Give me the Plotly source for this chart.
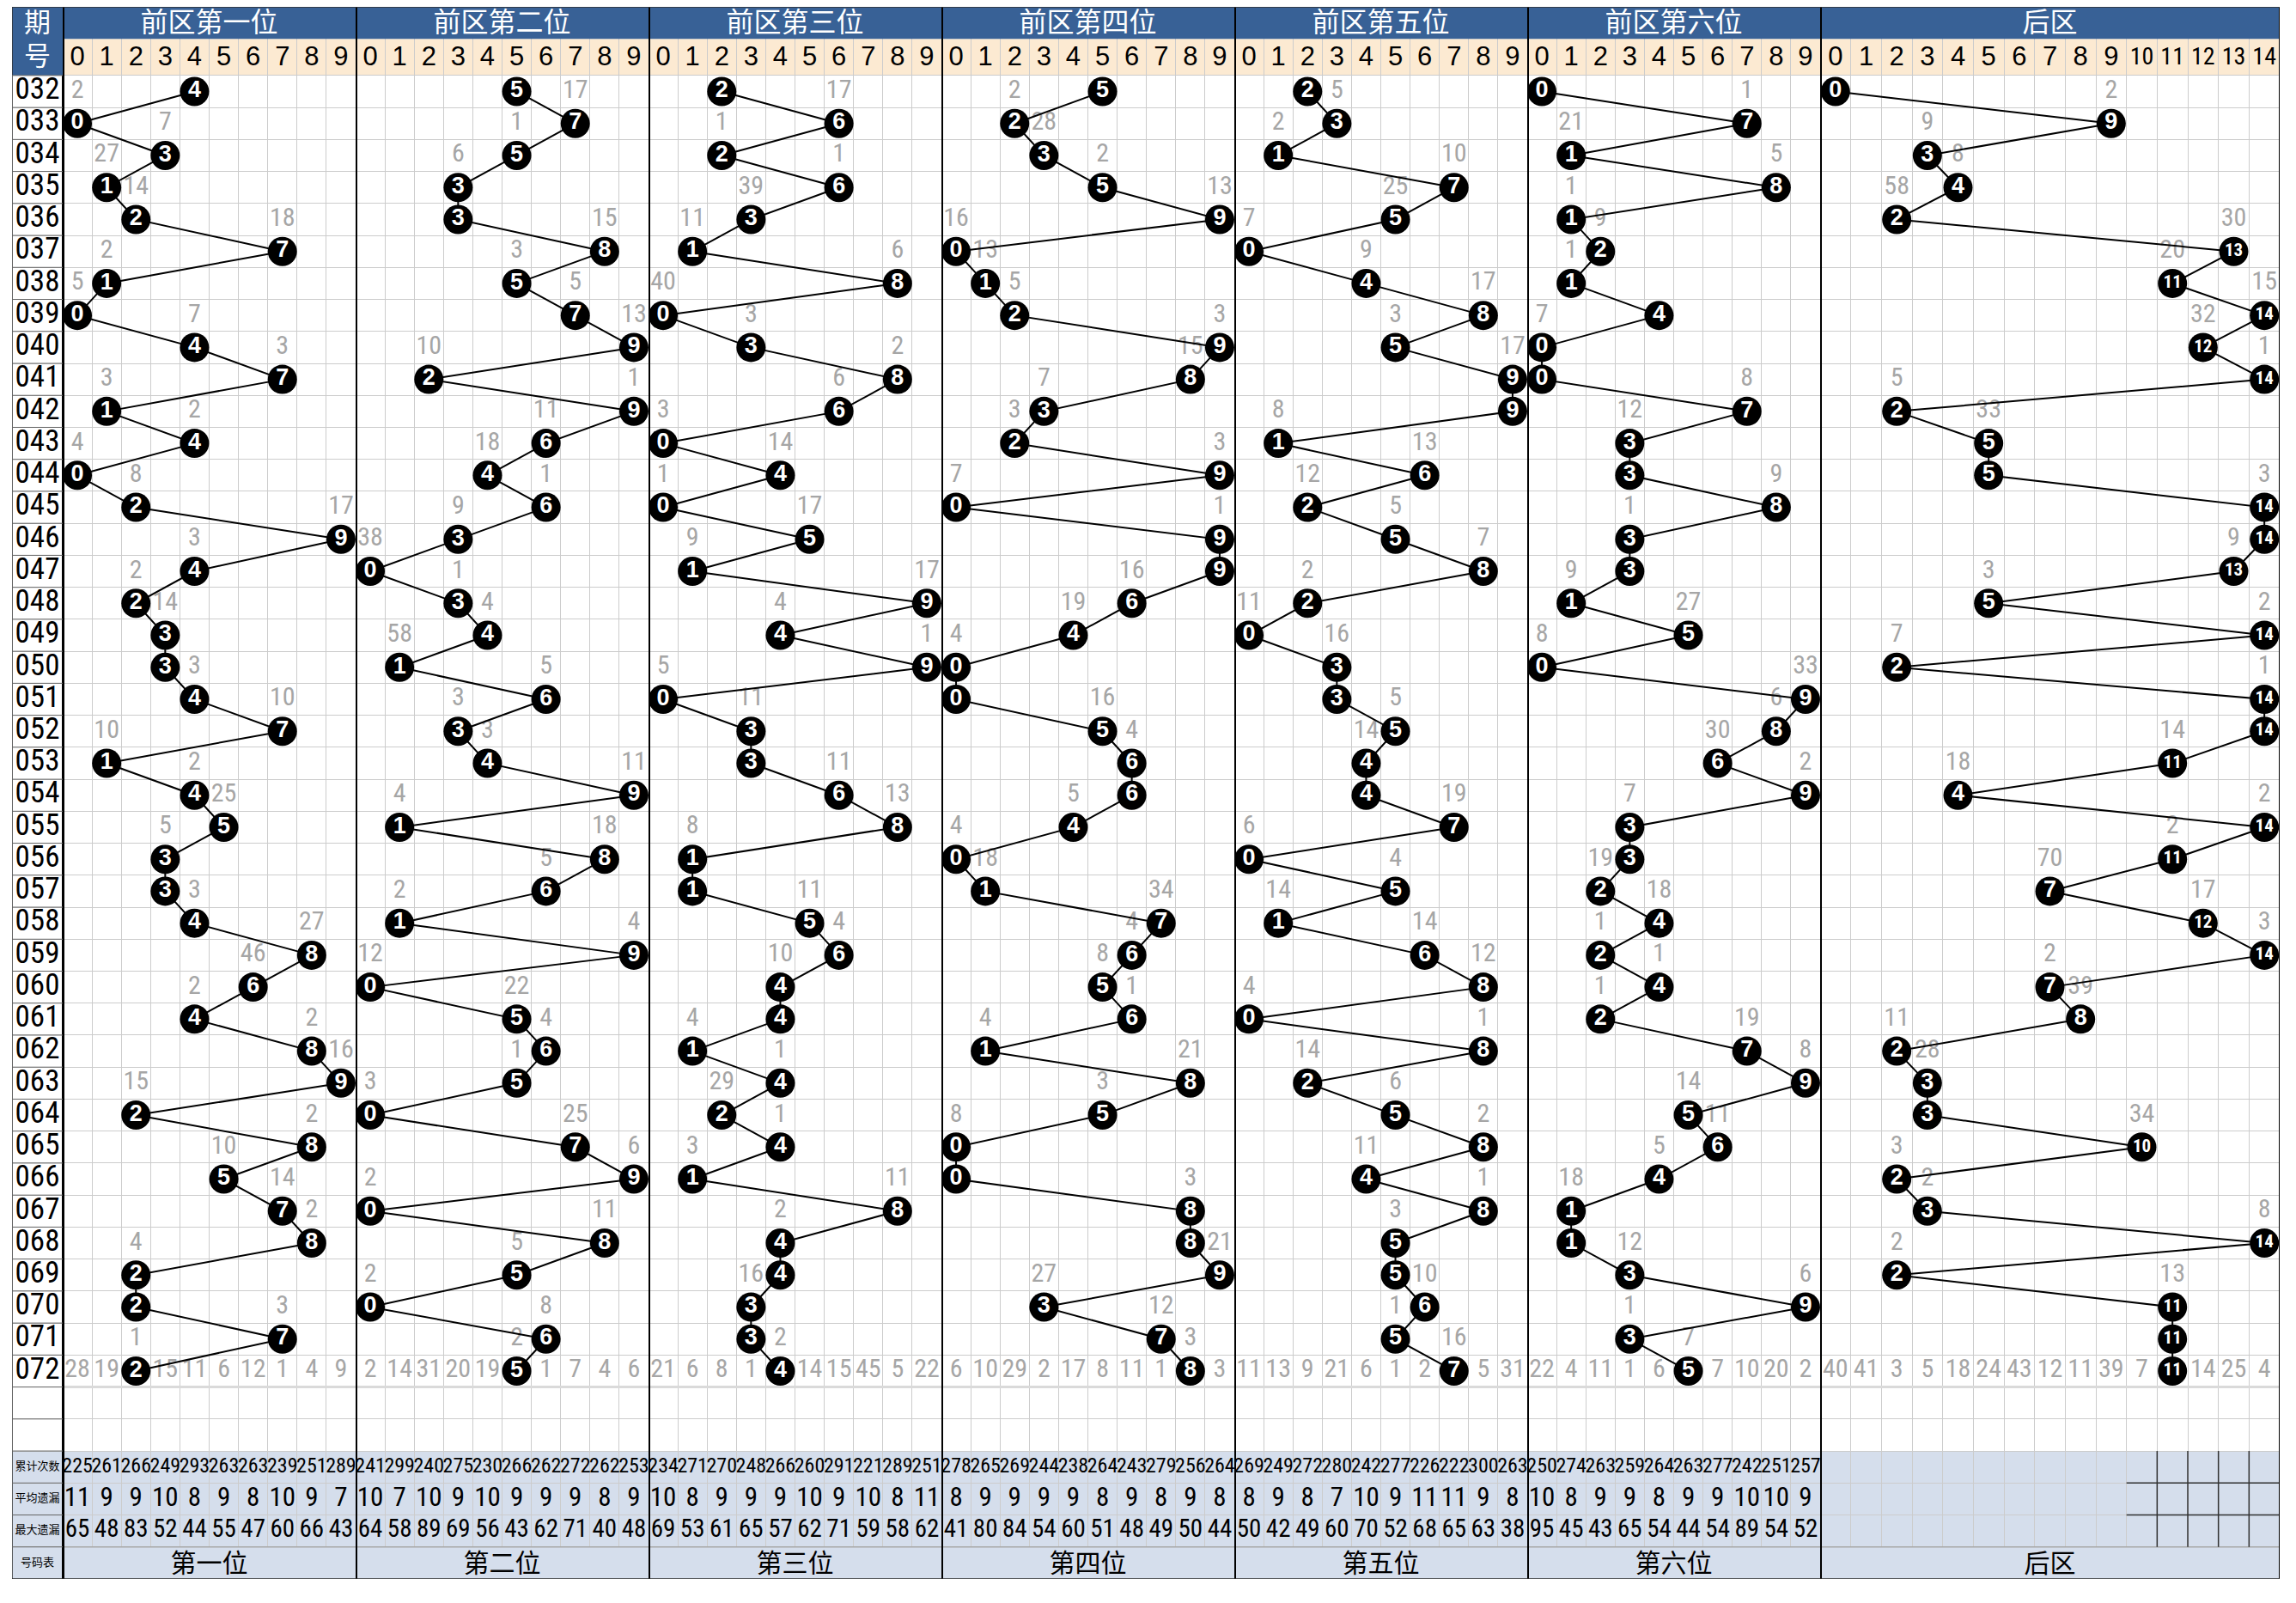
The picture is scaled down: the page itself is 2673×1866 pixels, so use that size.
import subprocess
import plotly.graph_objects as go

# ---------------- data ----------------
periods = ["032", "033", "034", "035", "036", "037", "038", "039", "040", "041",
           "042", "043", "044", "045", "046", "047", "048", "049", "050", "051",
           "052", "053", "054", "055", "056", "057", "058", "059", "060", "061",
           "062", "063", "064", "065", "066", "067", "068", "069", "070", "071", "072"]

front_titles = ["前区第一位", "前区第二位", "前区第三位", "前区第四位", "前区第五位", "前区第六位"]
back_title = "后区"
front_names = ["第一位", "第二位", "第三位", "第四位", "第五位", "第六位"]
back_name = "后区"
front_digits = ["0", "1", "2", "3", "4", "5", "6", "7", "8", "9"]
back_digits = ["0", "1", "2", "3", "4", "5", "6", "7", "8", "9", "10", "11", "12", "13", "14"]
stat_labels = ["累计次数", "平均遗漏", "最大遗漏", "号码表"]

# drawn number per period
draws_p1 = [4, 0, 3, 1, 2, 7, 1, 0, 4, 7, 1, 4, 0, 2, 9, 4, 2, 3, 3, 4, 7, 1, 4, 5, 3, 3, 4, 8, 6, 4, 8, 9, 2, 8, 5, 7, 8, 2, 2, 7, 2]
draws_p2 = [5, 7, 5, 3, 3, 8, 5, 7, 9, 2, 9, 6, 4, 6, 3, 0, 3, 4, 1, 6, 3, 4, 9, 1, 8, 6, 1, 9, 0, 5, 6, 5, 0, 7, 9, 0, 8, 5, 0, 6, 5]
draws_p3 = [2, 6, 2, 6, 3, 1, 8, 0, 3, 8, 6, 0, 4, 0, 5, 1, 9, 4, 9, 0, 3, 3, 6, 8, 1, 1, 5, 6, 4, 4, 1, 4, 2, 4, 1, 8, 4, 4, 3, 3, 4]
draws_p4 = [5, 2, 3, 5, 9, 0, 1, 2, 9, 8, 3, 2, 9, 0, 9, 9, 6, 4, 0, 0, 5, 6, 6, 4, 0, 1, 7, 6, 5, 6, 1, 8, 5, 0, 0, 8, 8, 9, 3, 7, 8]
draws_p5 = [2, 3, 1, 7, 5, 0, 4, 8, 5, 9, 9, 1, 6, 2, 5, 8, 2, 0, 3, 3, 5, 4, 4, 7, 0, 5, 1, 6, 8, 0, 8, 2, 5, 8, 4, 8, 5, 5, 6, 5, 7]
draws_p6 = [0, 7, 1, 8, 1, 2, 1, 4, 0, 0, 7, 3, 3, 8, 3, 3, 1, 5, 0, 9, 8, 6, 9, 3, 3, 2, 4, 2, 4, 2, 7, 9, 5, 6, 4, 1, 1, 3, 9, 3, 5]
draws_back = [0, 9, 3, 4, 2, 13, 11, 14, 12, 14, 2, 5, 5, 14, 14, 13, 5, 14, 2, 14, 14, 11, 4, 14, 11, 7, 12, 14, 7, 8, 2, 3, 3, 10, 2, 3, 14, 2, 11, 11, 11]

# grey omission hint shown in each period (032..071), in the column of the next draw
hint_p1 = [2, 7, 27, 14, 18, 2, 5, 7, 3, 3, 2, 4, 8, 17, 3, 2, 14, None, 3, 10, 10, 2, 25, 5, None, 3, 27, 46, 2, 2, 16, 15, 2, 10, 14, 2, 4, None, 3, 1]
hint_p2 = [17, 1, 6, None, 15, 3, 5, 13, 10, 1, 11, 18, 1, 9, 38, 1, 4, 58, 5, 3, 3, 11, 4, 18, 5, 2, 4, 12, 22, 4, 1, 3, 25, 6, 2, 11, 5, 2, 8, 2]
hint_p3 = [17, 1, 1, 39, 11, 6, 40, 3, 2, 6, 3, 14, 1, 17, 9, 17, 4, 1, 5, 11, None, 11, 13, 8, None, 11, 4, 10, None, 4, 1, 29, 1, 3, 11, 2, None, 16, None, 2]
hint_p4 = [2, 28, 2, 13, 16, 13, 5, 3, 15, 7, 3, 3, 7, 1, None, 16, 19, 4, None, 16, 4, None, 5, 4, 18, 34, 4, 8, 1, 4, 21, 3, 8, None, 3, None, 21, 27, 12, 3]
hint_p5 = [5, 2, 10, 25, 7, 9, 17, 3, 17, None, 8, 13, 12, 5, 7, 2, 11, 16, None, 5, 14, None, 19, 6, 4, 14, 14, 12, 4, 1, 14, 6, 2, 11, 1, 3, None, 10, 1, 16]
hint_p6 = [1, 21, 5, 1, 9, 1, None, 7, None, 8, 12, None, 9, 1, None, 9, 27, 8, 33, 6, 30, 2, 7, None, 19, 18, 1, 1, 1, 19, 8, 14, 11, 5, 18, None, 12, 6, 1, 7]
hint_back = [2, 9, 8, 58, 30, 20, 15, 32, 1, 5, 33, None, 3, None, 9, 3, 2, 7, 1, None, 14, 18, 2, 2, 70, 17, 3, 2, 39, 11, 28, None, 34, 3, 2, 8, 2, 13, None, None]

# omission of every number in the last period (072); None = drawn
last_p1 = [28, 19, None, 15, 11, 6, 12, 1, 4, 9]
last_p2 = [2, 14, 31, 20, 19, None, 1, 7, 4, 6]
last_p3 = [21, 6, 8, 1, None, 14, 15, 45, 5, 22]
last_p4 = [6, 10, 29, 2, 17, 8, 11, 1, None, 3]
last_p5 = [11, 13, 9, 21, 6, 1, 2, None, 5, 31]
last_p6 = [22, 4, 11, 1, 6, None, 7, 10, 20, 2]
last_back = [40, 41, 3, 5, 18, 24, 43, 12, 11, 39, 7, None, 14, 25, 4]

# statistics
count_p1 = [225, 261, 266, 249, 293, 263, 263, 239, 251, 289]
count_p2 = [241, 299, 240, 275, 230, 266, 262, 272, 262, 253]
count_p3 = [234, 271, 270, 248, 266, 260, 291, 221, 289, 251]
count_p4 = [278, 265, 269, 244, 238, 264, 243, 279, 256, 264]
count_p5 = [269, 249, 272, 280, 242, 277, 226, 222, 300, 263]
count_p6 = [250, 274, 263, 259, 264, 263, 277, 242, 251, 257]

avg_p1 = [11, 9, 9, 10, 8, 9, 8, 10, 9, 7]
avg_p2 = [10, 7, 10, 9, 10, 9, 9, 9, 8, 9]
avg_p3 = [10, 8, 9, 9, 9, 10, 9, 10, 8, 11]
avg_p4 = [8, 9, 9, 9, 9, 8, 9, 8, 9, 8]
avg_p5 = [8, 9, 8, 7, 10, 9, 11, 11, 9, 8]
avg_p6 = [10, 8, 9, 9, 8, 9, 9, 10, 10, 9]

max_p1 = [65, 48, 83, 52, 44, 55, 47, 60, 66, 43]
max_p2 = [64, 58, 89, 69, 56, 43, 62, 71, 40, 48]
max_p3 = [69, 53, 61, 65, 57, 62, 71, 59, 58, 62]
max_p4 = [41, 80, 84, 54, 60, 51, 48, 49, 50, 44]
max_p5 = [50, 42, 49, 60, 70, 52, 68, 65, 63, 38]
max_p6 = [95, 45, 43, 65, 54, 44, 54, 89, 54, 52]

# ---------------- fonts ----------------
def installed_families():
    try:
        out = subprocess.run(["fc-list", ":", "family"], capture_output=True, text=True, timeout=20).stdout
        return out.lower()
    except Exception:
        return ""


_fams = installed_families()
NARROW = None
for cand in ["Liberation Sans Narrow", "Roboto Condensed", "DejaVu Sans Condensed", "Arial Narrow"]:
    if cand.lower() in _fams:
        NARROW = cand
        break
FONT = "Liberation Sans, Arial, Helvetica, sans-serif"
CJK = "Noto Sans CJK SC, sans-serif"
if NARROW is None:
    NARROW_F = FONT
    NS = 0.84          # shrink when no condensed face is available
else:
    NARROW_F = NARROW + ", Liberation Sans, sans-serif"
    NS = 1.0

# ---------------- styling / layout ----------------
W, H = 2673, 1866
BLUE = "#386196"
BEIGE = "#FCEAD2"
STATBG = "#D5DEEC"
GRID = "#CCCCCC"
GREY = "#A6A6A6"

TOP_PX, BOTTOM_PX = 8, 1838
LEFT_PX, LABEL_R_PX = 14, 73
SEC_W_PX = 341
BACK_L_PX, RIGHT_PX = 2119, 2654

Y_TOP, Y_HDR, Y_BOT = -2.645, -1.645, 46.5
N_ROWS = len(periods)
LAST = N_ROWS - 1
R_CNT, R_AVG, R_MAX, R_NAME = N_ROWS + 2, N_ROWS + 3, N_ROWS + 4, N_ROWS + 5
Y_T1 = (Y_TOP + Y_HDR) / 2 + 0.06
Y_T2 = (Y_HDR - 0.5) / 2 + 0.04
Y_NAME = R_NAME + 0.08

sections = []
front = [
    (draws_p1, hint_p1, last_p1, count_p1, avg_p1, max_p1),
    (draws_p2, hint_p2, last_p2, count_p2, avg_p2, max_p2),
    (draws_p3, hint_p3, last_p3, count_p3, avg_p3, max_p3),
    (draws_p4, hint_p4, last_p4, count_p4, avg_p4, max_p4),
    (draws_p5, hint_p5, last_p5, count_p5, avg_p5, max_p5),
    (draws_p6, hint_p6, last_p6, count_p6, avg_p6, max_p6),
]
for i, (d, h, l, c, a, m) in enumerate(front):
    sections.append(dict(key="xaxis" if i == 0 else f"xaxis{i+1}", ref="x" if i == 0 else f"x{i+1}",
                         title=front_titles[i], name=front_names[i], digits=front_digits,
                         draws=d, hint=h, last=l, count=c, avg=a, mx=m,
                         dom=[(LABEL_R_PX + SEC_W_PX * i) / W, (LABEL_R_PX + SEC_W_PX * (i + 1)) / W]))
sections.append(dict(key="xaxis7", ref="x7", title=back_title, name=back_name, digits=back_digits,
                     draws=draws_back, hint=hint_back, last=last_back, count=None, avg=None, mx=None,
                     dom=[BACK_L_PX / W, RIGHT_PX / W]))

layout = dict(width=W, height=H, margin=dict(l=0, r=0, t=0, b=0, pad=0),
              paper_bgcolor="white", plot_bgcolor="white", showlegend=False, hovermode=False)
layout["yaxis"] = dict(domain=[1 - BOTTOM_PX / H, 1 - TOP_PX / H], range=[Y_BOT, Y_TOP],
                       tickvals=[r + 0.5 for r in range(-1, R_NAME + 1)], showgrid=True,
                       gridcolor=GRID, gridwidth=1, showticklabels=False, ticks="",
                       zeroline=False, showline=False, fixedrange=True, anchor="x")

shapes = []
traces = []


def rect(ref, x0, x1, y0, y1, color, layer):
    shapes.append(dict(type="rect", xref=ref, yref="y", x0=x0, x1=x1, y0=y0, y1=y1,
                       fillcolor=color, line=dict(width=0), layer=layer))


def vline(ref, x, y0, y1, color, width):
    shapes.append(dict(type="line", xref=ref, yref="y", x0=x, x1=x, y0=y0, y1=y1,
                       line=dict(color=color, width=width), layer="above"))


def hline(ref, x0, x1, y, color, width, layer="above"):
    shapes.append(dict(type="line", xref=ref, yref="y", x0=x0, x1=x1, y0=y, y1=y,
                       line=dict(color=color, width=width), layer=layer))


def text_trace(ref, xs, ys, texts, size, color, family=FONT, weight="normal"):
    traces.append(go.Scatter(x=xs, y=ys, text=texts, mode="text", textposition="middle center",
                             textfont=dict(family=family, size=size, color=color, weight=weight),
                             xaxis=ref, yaxis="y", cliponaxis=False, hoverinfo="skip"))


for sec in sections:
    n = len(sec["digits"])
    ref = sec["ref"]
    lo, hi = -0.5, n - 0.5
    layout[sec["key"]] = dict(domain=sec["dom"], range=[lo, hi], anchor="y",
                              tickvals=[c - 0.5 for c in range(n + 1)], showgrid=True,
                              gridcolor=GRID, gridwidth=1, showticklabels=False, ticks="",
                              zeroline=False, showline=False, fixedrange=True)
    # backgrounds
    rect(ref, lo, hi, Y_HDR, -0.5, BEIGE, "below")
    rect(ref, lo, hi, Y_TOP, Y_HDR, BLUE, "between")
    rect(ref, lo, hi, R_CNT - 0.5, R_MAX + 0.5, STATBG, "below")
    rect(ref, lo, hi, R_NAME - 0.5, R_NAME + 0.5, STATBG, "between")
    hline(ref, lo, hi, R_NAME - 0.5, "#A8A8A8", 1.5)
    hline(ref, lo, hi, LAST + 0.5, "#DADADA", 3, "between")
    # header texts
    text_trace(ref, [(n - 1) / 2], [Y_T1], [sec["title"]], 32, "white", CJK)
    hx = list(range(n))
    text_trace(ref, hx, [Y_T2] * n, sec["digits"],
               [31 if len(t) == 1 else 28 for t in sec["digits"]], "black",
               [FONT if len(t) == 1 else NARROW_F for t in sec["digits"]])
    # grey omission hints
    gx, gy, gt = [], [], []
    for i, v in enumerate(sec["hint"]):
        if v is not None:
            gx.append(sec["draws"][i + 1])
            gy.append(i)
            gt.append(str(v))
    text_trace(ref, gx, gy, gt, 30 if NARROW else 28, GREY, NARROW_F)
    lx = [c for c, v in enumerate(sec["last"]) if v is not None]
    lt = [str(v) for v in sec["last"] if v is not None]
    text_trace(ref, lx, [LAST] * len(lx), lt, 30 if NARROW else 28, GREY, NARROW_F)
    # trend line + balls
    dt = [str(v) for v in sec["draws"]]
    traces.append(go.Scatter(
        x=sec["draws"], y=list(range(N_ROWS)), text=dt, mode="lines+markers+text",
        textposition="middle center",
        line=dict(color="black", width=2),
        marker=dict(size=34, color="black", line=dict(color="black", width=0)),
        textfont=dict(family=[FONT if len(t) == 1 else NARROW_F for t in dt],
                      size=[27 if len(t) == 1 else 21 for t in dt], color="white", weight="bold"),
        xaxis=ref, yaxis="y", cliponaxis=False, hoverinfo="skip"))
    # statistics
    if sec["count"] is not None:
        text_trace(ref, hx, [R_CNT] * n, [str(v) for v in sec["count"]], round(25 * NS * 0.96), "black", NARROW_F)
        text_trace(ref, hx, [R_AVG] * n, [str(v) for v in sec["avg"]], round(31 * NS), "black", NARROW_F)
        text_trace(ref, hx, [R_MAX] * n, [str(v) for v in sec["mx"]], round(29 * NS), "black", NARROW_F)
    text_trace(ref, [(n - 1) / 2], [Y_NAME], [sec["name"]], 30, "black", CJK)
    # section separator
    vline(ref, lo, Y_TOP, Y_BOT, "black", 4)

# darker cell borders in part of the back-zone statistics block
back = sections[-1]
for c in range(10, 14):
    vline(back["ref"], c + 0.5, R_CNT - 0.5, R_MAX + 0.5, "#303030", 1.5)
for r in (R_AVG, R_MAX):
    hline(back["ref"], 9.5, 14.5, r - 0.5, "#303030", 1.5)

# label column
layout["xaxis8"] = dict(domain=[LEFT_PX / W, LABEL_R_PX / W], range=[-0.5, 0.5], anchor="y",
                        showgrid=False, showticklabels=False, ticks="", zeroline=False,
                        showline=False, fixedrange=True)
rect("x8", -0.5, 0.5, Y_TOP, -0.5, BLUE, "between")
rect("x8", -0.5, 0.5, R_CNT - 0.5, R_NAME + 0.5, STATBG, "below")
text_trace("x8", [0, 0], [Y_T1, Y_T2], ["期", "号"], 31, "white", CJK)
text_trace("x8", [0] * N_ROWS, list(range(N_ROWS)), periods, 35 if NARROW else 32, "black",
           NARROW_F if NARROW else FONT)
text_trace("x8", [0] * 4, [R_CNT, R_AVG, R_MAX, R_NAME], stat_labels, 13, "black", CJK)
vline("x8", -0.5, Y_TOP, Y_BOT, "#303030", 1.5)
vline("x8", 0.5, -0.5, Y_BOT, "black", 2)
for r in range(0, R_NAME + 1):
    hline("x8", -0.5, 0.5, r - 0.5, "#666666", 1)

# outer border
vline("x7", 14.5, Y_TOP, Y_BOT, "black", 2)
shapes.append(dict(type="line", xref="paper", yref="y", x0=LEFT_PX / W, x1=RIGHT_PX / W,
                   y0=Y_TOP, y1=Y_TOP, line=dict(color="#303030", width=1.5), layer="above"))
shapes.append(dict(type="line", xref="paper", yref="y", x0=LEFT_PX / W, x1=RIGHT_PX / W,
                   y0=Y_BOT, y1=Y_BOT, line=dict(color="#303030", width=1.5), layer="above"))

layout["shapes"] = shapes
fig = go.Figure(data=traces, layout=layout)
fig.write_html("out.html")
